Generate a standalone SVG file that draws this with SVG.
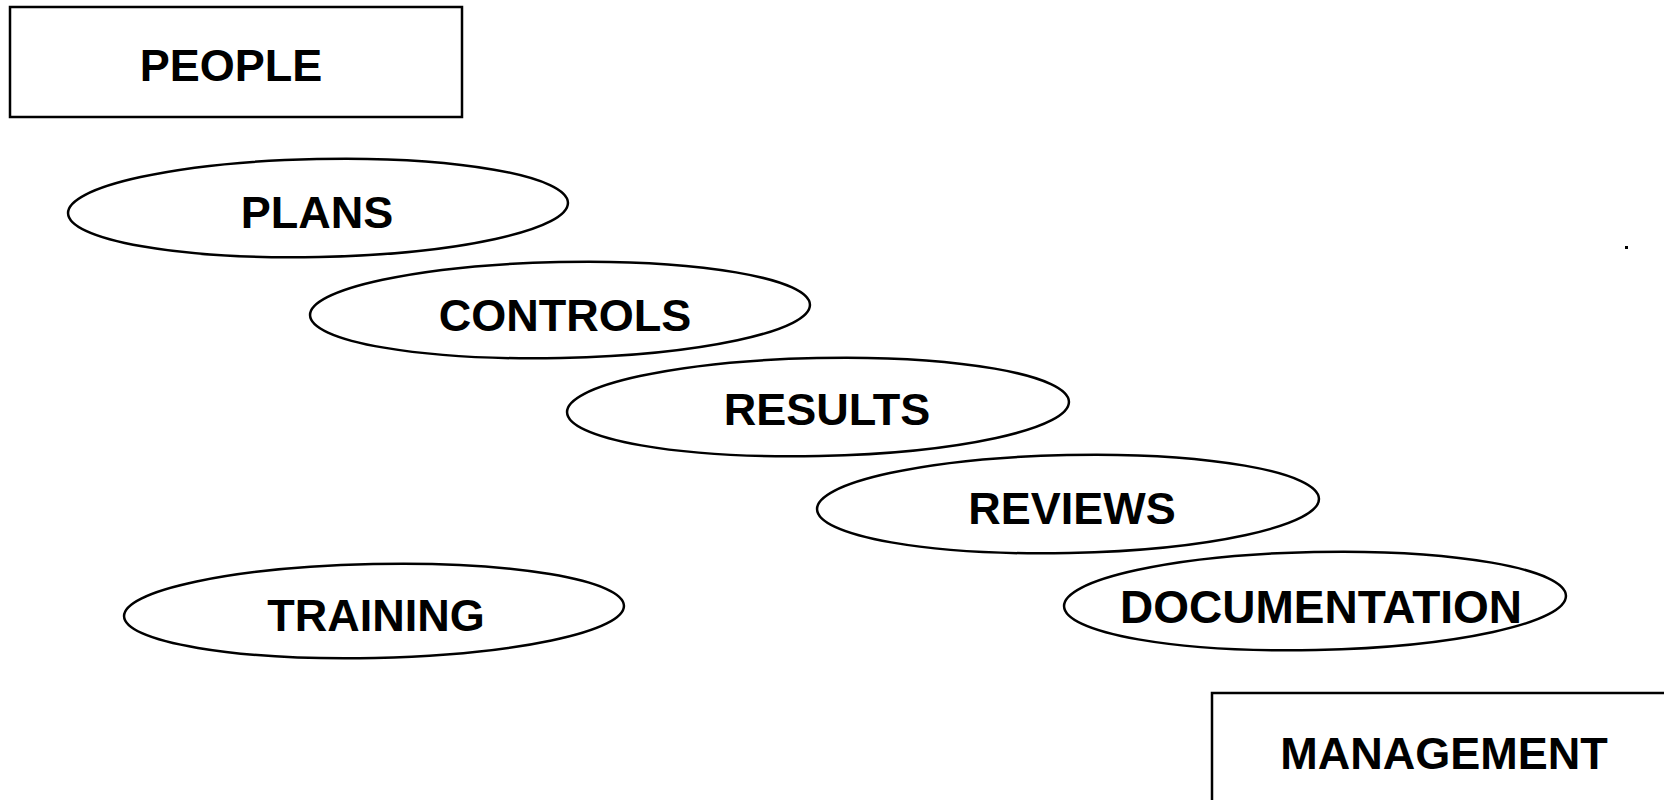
<svg xmlns="http://www.w3.org/2000/svg" width="1664" height="800" viewBox="0 0 1664 800">
  <style>
    .box { fill: #fff; stroke: #000; stroke-width: 2.5; }
    .oval { fill: #fff; stroke: #000; stroke-width: 2.5; }
    .label { font-family: "Liberation Sans", Arial, sans-serif; font-weight: bold; font-size: 45px; fill: #000; text-anchor: middle; }
  </style>
  <rect width="1664" height="800" fill="#fff"/>

  <g id="connectors"></g>

  <g id="people">
    <rect class="box" x="10" y="7" width="452" height="110"/>
    <text class="label" x="231" y="81">PEOPLE</text>
  </g>

  <g id="plans">
    <ellipse class="oval" cx="318" cy="208" rx="250" ry="49" transform="rotate(-1.2 318 208)"/>
    <text class="label" x="317" y="228">PLANS</text>
  </g>

  <g id="controls">
    <ellipse class="oval" cx="560" cy="310" rx="250" ry="48" transform="rotate(-1.2 560 310)"/>
    <text class="label" x="565" y="331">CONTROLS</text>
  </g>

  <g id="results">
    <ellipse class="oval" cx="818" cy="407" rx="251" ry="49" transform="rotate(-1.2 818 407)"/>
    <text class="label" x="827" y="425">RESULTS</text>
  </g>

  <g id="reviews">
    <ellipse class="oval" cx="1068" cy="504" rx="251" ry="49" transform="rotate(-1.2 1068 504)"/>
    <text class="label" x="1072" y="524">REVIEWS</text>
  </g>

  <g id="documentation">
    <ellipse class="oval" cx="1315" cy="601" rx="251" ry="49" transform="rotate(-1.2 1315 601)"/>
    <text class="label" x="1321" y="623" style="font-size:46px">DOCUMENTATION</text>
  </g>

  <g id="training">
    <ellipse class="oval" cx="374" cy="611" rx="250" ry="47" transform="rotate(-1.2 374 611)"/>
    <text class="label" x="376" y="631">TRAINING</text>
  </g>

  <g id="management">
    <rect class="box" x="1212" y="693" width="470" height="130"/>
    <text class="label" x="1444" y="769">MANAGEMENT</text>
  </g>

  <rect x="1625" y="246" width="3" height="3" fill="#000"/>
</svg>
